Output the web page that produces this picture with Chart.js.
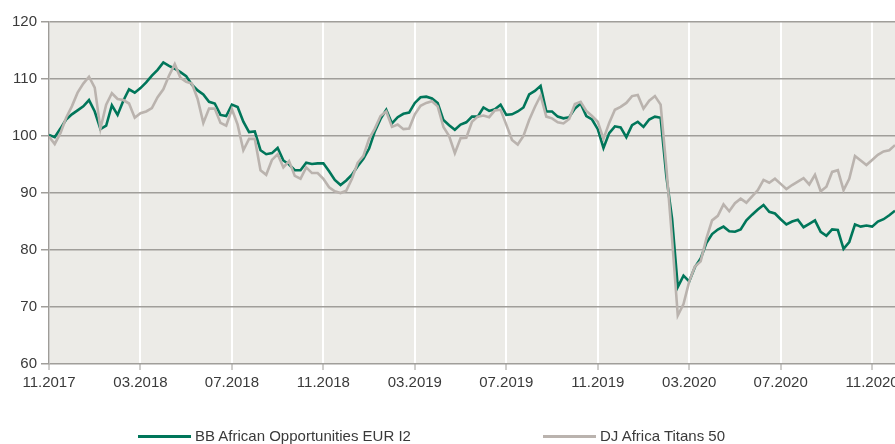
<!DOCTYPE html>
<html>
<head>
<meta charset="utf-8">
<script src="https://cdn.jsdelivr.net/npm/chart.js@4"></script>
<style>
  html, body { margin: 0; padding: 0; background: #fff; overflow: hidden; }
  #wrap { position: relative; width: 895px; height: 444px; }
  #chart { display: block; }
  #legend { position: absolute; top: 427px; left: 0; width: 895px; height: 18px;
    font: 15px "Liberation Sans", Arial, sans-serif; color: #3a3a3a; }
  .item { position: absolute; top: 0; white-space: nowrap; line-height: 18px; }
  .swatch { display: inline-block; width: 53px; height: 3px; vertical-align: middle; margin-right: 4px; position: relative; top: -1px; }
</style>
</head>
<body>
<div id="wrap">
  <canvas id="chart" width="895" height="444"></canvas>
  <div id="legend"></div>
</div>
<script>
// x axis: quarter-month steps from 11.2017, labels every 4 months
const monthLabels = ['11.2017', '03.2018', '07.2018', '11.2018', '03.2019', '07.2019', '11.2019', '03.2020', '07.2020', '11.2020'];
const yTicks = [60, 70, 80, 90, 100, 110, 120];
const seriesNames = ['BB African Opportunities EUR I2', 'DJ Africa Titans 50'];

const fundValues = [
  100.2, 99.8, 101.3, 102.9, 103.8, 104.5, 105.2, 106.3, 104.3, 101.2,
  101.8, 105.4, 103.7, 106.2, 108.2, 107.6, 108.4, 109.4, 110.6, 111.6,
  112.9, 112.3, 111.8, 111.2, 110.5, 109.0, 108.0, 107.3, 106.0, 105.7,
  103.7, 103.5, 105.5, 105.1, 102.5, 100.7, 100.8, 97.5, 96.8, 97.0,
  97.9, 95.7, 95.0, 94.0, 94.0, 95.3, 95.1, 95.2, 95.2, 93.8,
  92.3, 91.4, 92.2, 93.2, 94.7, 96.0, 97.8, 100.8, 103.0, 104.6,
  102.2, 103.3, 103.9, 104.1, 105.8, 106.8, 106.9, 106.6, 105.8, 102.8,
  101.9, 101.1, 102.0, 102.4, 103.4, 103.4, 105.0, 104.4, 104.7, 105.5,
  103.7, 103.8, 104.3, 105.0, 107.3, 107.9, 108.8, 104.3, 104.3, 103.4,
  103.1, 103.3, 104.8, 105.7, 103.5, 102.9, 101.2, 97.9, 100.5, 101.7,
  101.5, 99.8, 101.9, 102.5, 101.6, 102.9, 103.4, 103.2, 92.9, 85.5,
  73.5, 75.5, 74.5, 77.0, 78.5, 81.2, 82.8, 83.6, 84.1, 83.3,
  83.2, 83.6, 85.2, 86.2, 87.1, 87.9, 86.7, 86.4, 85.4, 84.5,
  85.0, 85.3, 84.0, 84.6, 85.2, 83.2, 82.5, 83.6, 83.5, 80.2,
  81.4, 84.5, 84.1, 84.3, 84.1, 85.0, 85.4, 86.1, 86.9
];

const indexValues = [
  99.9, 98.6, 100.5, 103.2, 105.2, 107.6, 109.2, 110.4, 108.5, 101.3,
  105.5, 107.5, 106.5, 106.3, 105.7, 103.2, 104.0, 104.3, 104.9, 106.8,
  108.2, 110.6, 112.6, 110.2, 109.5, 109.2, 106.5, 102.3, 104.8, 104.8,
  102.3, 101.8, 104.7, 102.0, 97.5, 99.5, 99.5, 94.0, 93.2, 95.8,
  96.8, 94.5, 95.6, 93.0, 92.5, 94.5, 93.5, 93.5, 92.5, 91.0,
  90.3, 90.0, 90.4, 92.5, 95.3, 96.5, 99.5, 101.3, 103.5, 104.3,
  101.6, 102.0, 101.2, 101.3, 103.8, 105.3, 105.8, 106.1, 105.2, 101.6,
  100.0, 97.0, 99.6, 99.7, 102.5, 103.4, 103.6, 103.3, 104.5, 104.6,
  102.0, 99.3, 98.5, 100.0, 102.8, 105.1, 107.1, 103.4, 103.1, 102.4,
  102.2, 103.0, 105.6, 106.0, 104.4, 103.5, 102.5, 99.5, 102.3, 104.6,
  105.1, 105.8, 107.0, 107.2, 104.8, 106.2, 107.0, 105.5, 94.5, 82.0,
  68.5, 70.5, 74.5, 77.1, 78.0, 82.0, 85.2, 86.0, 88.0, 86.8,
  88.2, 89.0, 88.3, 89.4, 90.5, 92.3, 91.8, 92.5, 91.6, 90.7,
  91.4, 92.0, 92.6, 91.5, 93.2, 90.3, 91.1, 93.7, 94.0, 90.5,
  92.5, 96.5, 95.7, 94.9, 95.8, 96.7, 97.3, 97.5, 98.4
];

const colors = ['#00765a', '#bab3ae'];
const stepsPerLabel = 16; // 4 months * 4 steps

const toPoints = vals => vals.map((v, i) => ({ x: i, y: v }));

// plot background
const plotBg = {
  id: 'plotBg',
  beforeDraw(chart) {
    const { ctx, chartArea: a } = chart;
    ctx.save();
    ctx.fillStyle = '#ecebe7';
    ctx.fillRect(a.left, a.top, a.right - a.left, a.bottom - a.top);
    ctx.restore();
  }
};

const font = { family: '"Liberation Sans", Arial, sans-serif', size: 15 };

new Chart(document.getElementById('chart').getContext('2d'), {
  type: 'line',
  data: {
    datasets: [
      {
        label: seriesNames[0],
        data: toPoints(fundValues),
        borderColor: colors[0],
        backgroundColor: colors[0],
        borderWidth: 2.6,
        pointRadius: 0,
        tension: 0,
        order: 2
      },
      {
        label: seriesNames[1],
        data: toPoints(indexValues),
        borderColor: colors[1],
        backgroundColor: colors[1],
        borderWidth: 2.6,
        pointRadius: 0,
        tension: 0,
        order: 1
      }
    ]
  },
  options: {
    responsive: false,
    animation: false,
    layout: { autoPadding: false, padding: { top: 22, right: 0, left: 0, bottom: 0 } },
    plugins: { legend: { display: false }, tooltip: { enabled: false } },
    scales: {
      x: {
        type: 'linear',
        min: 0,
        max: fundValues.length - 1,
        afterFit(scale) {
          scale.height = 80;
          scale.paddingLeft = 0;
          scale.paddingRight = 0;
        },
        afterBuildTicks(scale) {
          scale.ticks = monthLabels.map((l, i) => ({ value: i * stepsPerLabel }));
        },
        ticks: {
          callback: (v) => monthLabels[v / stepsPerLabel],
          font: font,
          color: '#3a3a3a',
          padding: 4,
          maxRotation: 0,
          autoSkip: false
        },
        grid: { color: '#ffffff', lineWidth: 2, tickColor: '#9e9c98', tickLength: 6, tickWidth: 1 },
        border: { display: false }
      },
      y: {
        min: 60,
        max: 120,
        afterFit(scale) { scale.width = 49; },
        afterBuildTicks(scale) {
          scale.ticks = yTicks.map(v => ({ value: v }));
        },
        ticks: { font: font, color: '#3a3a3a', padding: 4 },
        grid: { color: '#a09e9a', lineWidth: 1.5, tickLength: 8 },
        border: { color: '#9e9c98', width: 1.5 }
      }
    }
  },
  plugins: [plotBg]
});

// legend below the chart
const legend = document.getElementById('legend');
const legendLeft = [138, 543];
seriesNames.forEach((name, i) => {
  const item = document.createElement('div');
  item.className = 'item';
  item.style.left = legendLeft[i] + 'px';
  item.innerHTML = '<span class="swatch" style="background:' + colors[i] + '"></span>' + name;
  legend.appendChild(item);
});
</script>
</body>
</html>
